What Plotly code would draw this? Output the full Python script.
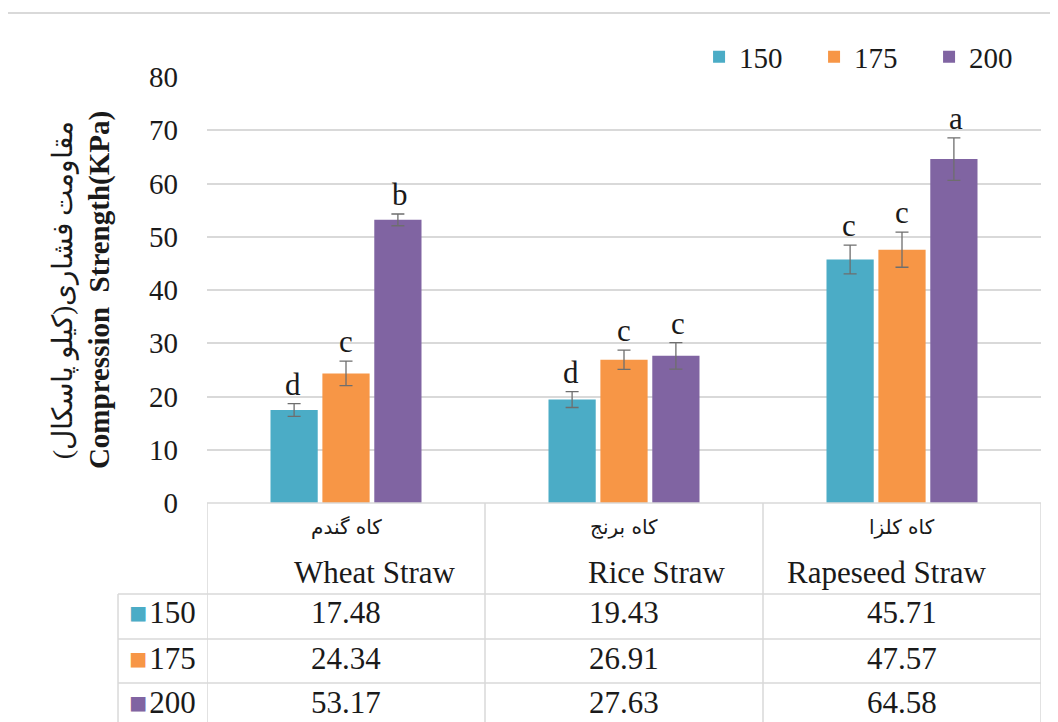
import plotly.graph_objects as go

categories = ["Wheat Straw", "Rice Straw", "Rapeseed Straw"]
categories_fa = ["کاه گندم", "کاه برنج", "کاه کلزا"]
series_names = ["150", "175", "200"]
values_150 = [17.48, 19.43, 45.71]
values_175 = [24.34, 26.91, 47.57]
values_200 = [53.17, 27.63, 64.58]
errors_150 = [1.2, 1.5, 2.7]
errors_175 = [2.3, 1.8, 3.3]
errors_200 = [1.1, 2.5, 4.0]
letters_150 = ["d", "d", "c"]
letters_175 = ["c", "c", "c"]
letters_200 = ["b", "c", "a"]
colors = ["#4BACC6", "#F79646", "#8064A2"]
y_ticks = [0, 10, 20, 30, 40, 50, 60, 70, 80]

values = [values_150, values_175, values_200]
errors = [errors_150, errors_175, errors_200]
letters = [letters_150, letters_175, letters_200]

FONT = "Liberation Serif, Times New Roman, serif"
FA_FONT = "DejaVu Serif, DejaVu Sans, serif"
TXT = "#1a1a1a"
GRID = "#d9d9d9"
FS = 29
TFS = 31
header_shift = [29, 32, -16]

fig = go.Figure()
for name, vals, errs, col in zip(series_names, values, errors, colors):
    fig.add_trace(go.Bar(
        name=name, x=categories, y=vals, marker_color=col,
        marker_line_width=0,
        error_y=dict(type="data", array=errs, visible=True, color="#6e6e6e",
                     thickness=1.3, width=6.5),
        offsetgroup=name,
    ))

annotations = []
n = len(series_names)
for si in range(n):
    for ci, cat in enumerate(categories):
        annotations.append(dict(
            x=cat, y=values[si][ci] + errors[si][ci], xref="x", yref="y",
            text=letters[si][ci], showarrow=False, yanchor="bottom", xanchor="center",
            xshift=(si - 1) * 53.5, yshift=0,
            font=dict(family=FONT, size=31, color=TXT)))

row_y = [-0.258, -0.366, -0.469]
for ci, cat in enumerate(categories):
    annotations.append(dict(x=cat, y=-0.0563, xref="x", yref="paper",
                            xanchor="center", yanchor="middle",
                            text=categories_fa[ci], showarrow=False,
                            font=dict(family=FA_FONT, size=20, color=TXT)))
    annotations.append(dict(x=cat, y=-0.162, xref="x", yref="paper",
                            xanchor="center", yanchor="middle", xshift=header_shift[ci],
                            text=cat, showarrow=False,
                            font=dict(family=FONT, size=TFS, color=TXT)))
    for si in range(n):
        annotations.append(dict(x=cat, y=row_y[si], xref="x", yref="paper",
                                xanchor="center", yanchor="middle",
                                text=f"{values[si][ci]:.2f}", showarrow=False,
                                font=dict(family=FONT, size=TFS, color=TXT)))
for si in range(n):
    annotations.append(dict(
        x=-0.0955, y=row_y[si], xref="paper", yref="paper", xanchor="left", yanchor="middle",
        text=(f"<span style='color:{colors[si]};font-size:30px'>■</span>"
              f"<span style='font-size:8px'> </span>{series_names[si]}"),
        showarrow=False, font=dict(family=FONT, size=TFS, color=TXT)))

shapes = []
line = dict(color=GRID, width=1.5)
shapes.append(dict(type="line", xref="paper", yref="paper", x0=0, x1=1, y0=0, y1=0, line=line))
for xv in [-0.5, 0.5, 1.5, 2.5]:
    shapes.append(dict(type="line", xref="x", yref="paper", x0=xv, x1=xv,
                       y0=0, y1=-0.6, line=line))
for yv in [-0.2136, -0.319, -0.4225]:
    shapes.append(dict(type="line", xref="paper", yref="paper", x0=-0.1067, x1=1,
                       y0=yv, y1=yv, line=line))
shapes.append(dict(type="line", xref="paper", yref="paper", x0=-0.1067, x1=-0.1067,
                   y0=-0.2136, y1=-0.6, line=line))
shapes.append(dict(type="rect", xref="paper", yref="paper", x0=-0.2398, x1=1.2,
                   y0=-0.7, y1=1.1505, line=dict(color="#d9d9d9", width=2),
                   layer="below"))

# page body has an 8px margin; offsets place the plot area at 207..1041 x 77..503
fig.update_layout(
    width=1058, height=722,
    margin=dict(l=199, r=25, t=69, b=227, autoexpand=False),
    paper_bgcolor="white", plot_bgcolor="white",
    barmode="group", bargap=0.44, bargroupgap=0.09,
    font=dict(family=FONT, color=TXT),
    showlegend=True,
    legend=dict(orientation="h", x=0.59, xanchor="left", y=1.047, yanchor="middle",
                font=dict(family=FONT, size=FS, color=TXT),
                entrywidth=70, entrywidthmode="pixels", itemwidth=30,
                bgcolor="rgba(0,0,0,0)"),
    annotations=annotations, shapes=shapes,
)
fig.update_xaxes(showticklabels=False, showgrid=False, zeroline=False, showline=False,
                 ticks="", range=[-0.5, 2.5])
fig.update_yaxes(range=[0, 80], tickvals=y_ticks, showgrid=True, gridcolor=GRID,
                 gridwidth=1.5, zeroline=False, showline=False, ticks="",
                 ticklabelstandoff=28,
                 tickfont=dict(family=FONT, size=FS, color=TXT),
                 title=dict(text="<span style='font-size:28px'>مقاومت فشاری(کیلو پاسکال)</span>"
                                 "<br><b>Compression  Strength(KPa)</b>",
                            font=dict(family=FONT, size=29, color=TXT), standoff=30))

fig.write_html("out.html")
